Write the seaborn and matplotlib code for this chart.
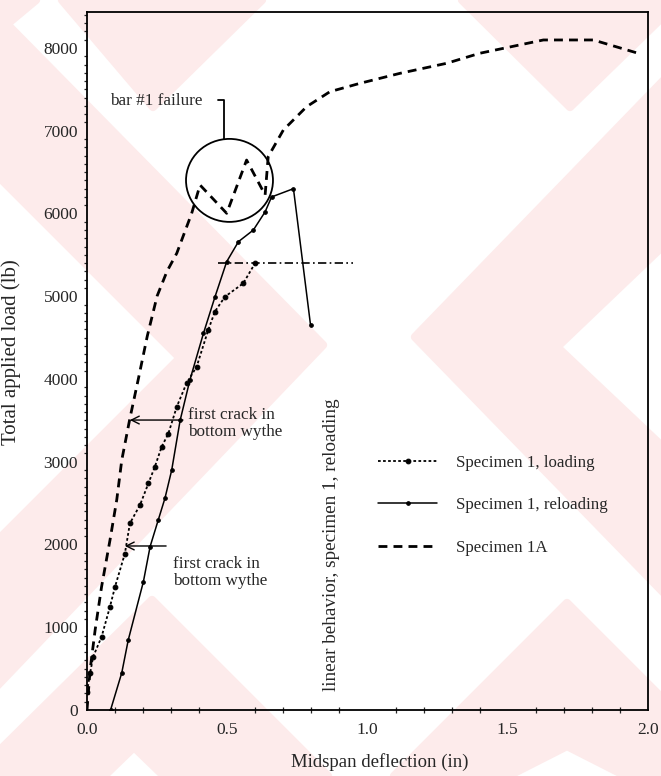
import numpy as np
import pandas as pd
import seaborn as sns
import matplotlib
matplotlib.use("Agg")
import matplotlib.pyplot as plt
from matplotlib.patches import Ellipse, Polygon

# ---- test data: total applied load vs. midspan deflection ----
load_defl = [0.0, 0.011, 0.022, 0.052, 0.082, 0.10, 0.135, 0.153, 0.189, 0.219, 0.242,
             0.266, 0.29, 0.32, 0.355, 0.391, 0.432, 0.456, 0.492, 0.557, 0.599]
load_lb = [220, 445, 645, 885, 1250, 1490, 1890, 2256, 2478, 2740, 2940,
           3180, 3340, 3665, 3950, 4150, 4590, 4815, 4995, 5156, 5398]

reload_defl = [0.084, 0.124, 0.147, 0.201, 0.225, 0.254, 0.278, 0.302, 0.332, 0.367,
               0.415, 0.456, 0.498, 0.54, 0.593, 0.635, 0.658, 0.736, 0.797]
reload_lb = [0, 450, 845, 1550, 1975, 2296, 2560, 2900, 3500, 3990,
             4550, 4990, 5418, 5660, 5800, 6020, 6200, 6300, 4650]

spec1a_defl = [0.0, 0.011, 0.029, 0.052, 0.082, 0.106, 0.124, 0.153, 0.183, 0.215, 0.25,
               0.285, 0.32, 0.373, 0.403, 0.498, 0.569, 0.635, 0.646, 0.70, 0.783, 0.866,
               0.973, 1.116, 1.282, 1.40, 1.627, 1.805, 1.965]
spec1a_lb = [0, 483, 967, 1490, 2054, 2538, 3021, 3525, 4000, 4520, 5003,
             5300, 5519, 6000, 6344, 6002, 6646, 6224, 6687, 7009, 7291, 7472,
             7573, 7694, 7815, 7936, 8097, 8097, 7936]

series_names = ["Specimen 1, loading", "Specimen 1, reloading", "Specimen 1A"]

# annotation values
linear_load = 5398
linear_span = [0.467, 0.948]
arrow_x = 0.932
crack_1a = (0.153, 3504)
crack_1 = (0.135, 1982)
failure_center = (0.508, 6400)

x_ticks = [0.0, 0.5, 1.0, 1.5, 2.0]
x_ticklabels = ["0.0", "0.5", "1.0", "1.5", "2.0"]
y_ticks = [0, 1000, 2000, 3000, 4000, 5000, 6000, 7000, 8000]

sns.set_theme(style="white")
plt.rcParams["font.family"] = ["Liberation Serif", "DejaVu Serif"]
plt.rcParams["axes.linewidth"] = 1.3

W, H = 661, 776
fig = plt.figure(figsize=(W / 100, H / 100), dpi=100)
fig.patch.set_facecolor("white")

# faint background stamp pattern (pixel outlines, origin top-left)
pink = "#fdebeb"
stamp_shapes = [
    [(0, 0), (36, 0), (0, 30)],
    [(62, 0), (262, 0), (153, 107)],
    [(462, 0), (680, 0), (570, 107)],
    [(-5, 12), (323, 345), (-5, 688), (-5, 543), (180, 358), (-5, 173)],
    [(666, 78), (415, 337), (666, 595), (666, 450), (557, 347), (666, 243)],
    [(-5, 755), (152, 600), (328, 776), (164, 776), (134, 747), (104, 776), (-5, 776)],
    [(394, 776), (567, 603), (666, 702), (666, 776), (626, 776), (567, 746), (508, 776)],
]
for pts in stamp_shapes:
    fpts = [(px / W, 1 - py / H) for px, py in pts]
    fig.patches.append(Polygon(fpts, closed=True, transform=fig.transFigure,
                               facecolor=pink, edgecolor=pink, lw=6,
                               joinstyle="round", zorder=-5))

ax = fig.add_axes([87 / W, 1 - 710 / H, (648 - 87) / W, (710 - 12) / H])
ax.set_facecolor("none")

df_load = pd.DataFrame({"defl": load_defl, "load": load_lb})
df_reload = pd.DataFrame({"defl": reload_defl, "load": reload_lb})
df_1a = pd.DataFrame({"defl": spec1a_defl, "load": spec1a_lb})

sns.lineplot(data=df_load, x="defl", y="load", ax=ax, sort=False, estimator=None,
             color="black", lw=1.3, linestyle=(0, (1.5, 1.3)), marker="o", ms=3.4,
             mec="black", label=series_names[0])
sns.lineplot(data=df_reload, x="defl", y="load", ax=ax, sort=False, estimator=None,
             color="black", lw=1.1, linestyle="-", marker="o", ms=2.6,
             mec="black", label=series_names[1])
sns.lineplot(data=df_1a, x="defl", y="load", ax=ax, sort=False, estimator=None,
             color="black", lw=2.0, linestyle=(0, (3.2, 2.2)),
             label=series_names[2])

# linear behaviour reference and extent arrow
ax.plot(linear_span, [linear_load, linear_load], color="black", lw=1.2,
        linestyle=(0, (5, 2, 1, 2)))
ax.annotate("", xy=(arrow_x, -10), xytext=(arrow_x, linear_load - 100),
            arrowprops=dict(arrowstyle="<->", color="black", lw=1.3,
                            mutation_scale=14, shrinkA=0, shrinkB=0))
ax.text(0.872, 1994, "linear behavior, specimen 1, reloading", rotation=90,
        ha="center", va="center", fontsize=13.8)

# bar failure callout
ax.add_patch(Ellipse(failure_center, 0.31, 1003, fill=False, color="black", lw=1.3))
ax.plot([0.467, 0.49, 0.49], [7372, 7372, 6905], color="black", lw=1.3)
ax.text(0.082, 7360, "bar #1 failure", ha="left", va="center", fontsize=12.3)

# first crack arrows
arrow_kw = dict(arrowstyle="->", color="black", lw=1.0, mutation_scale=14,
                shrinkA=0, shrinkB=0)
ax.annotate("", xy=crack_1a, xytext=(0.342, crack_1a[1]), arrowprops=arrow_kw)
ax.text(0.36, 3660, "first crack in\nbottom wythe", ha="left", va="top",
        fontsize=12.3, linespacing=1.05)
ax.annotate("", xy=crack_1, xytext=(0.282, crack_1[1]), arrowprops=arrow_kw)
ax.text(0.307, 1860, "first crack in\nbottom wythe", ha="left", va="top",
        fontsize=12.3, linespacing=1.05)

ax.set_xlim(0, 2.0)
ax.set_ylim(0, 8435)
ax.set_xticks(x_ticks)
ax.set_xticklabels(x_ticklabels)
ax.set_yticks(y_ticks)
ax.set_xticks(np.arange(0, 2.0001, 0.1), minor=True)
ax.set_yticks(np.arange(0, 8401, 100), minor=True)
ax.tick_params(axis="both", which="major", labelsize=12.5, color="black", width=1.2)
ax.tick_params(axis="x", which="major", direction="inout", length=8, pad=5)
ax.tick_params(axis="y", which="major", direction="out", length=5, pad=1.5)
ax.tick_params(axis="x", which="minor", direction="inout", length=4, width=0.9, bottom=True)
ax.tick_params(axis="y", which="minor", direction="out", length=2.5, width=0.9, left=True)
for s in ax.spines.values():
    s.set_visible(True)
    s.set_color("black")

ax.set_xlabel("Midspan deflection (in)", fontsize=13.5)
ax.set_ylabel("Total applied load (lb)", fontsize=15)
ax.xaxis.set_label_coords((380 - 87) / 561, -0.062)
ax.yaxis.set_label_coords(-0.118, 0.513)

leg = ax.legend(loc="upper left", bbox_to_anchor=(0.519, 0.366), frameon=False,
                fontsize=12.2, handlelength=3.5, handletextpad=1.1,
                labelspacing=1.58, borderpad=0, borderaxespad=0)

fig.savefig("out.png", dpi=100, facecolor="white")
